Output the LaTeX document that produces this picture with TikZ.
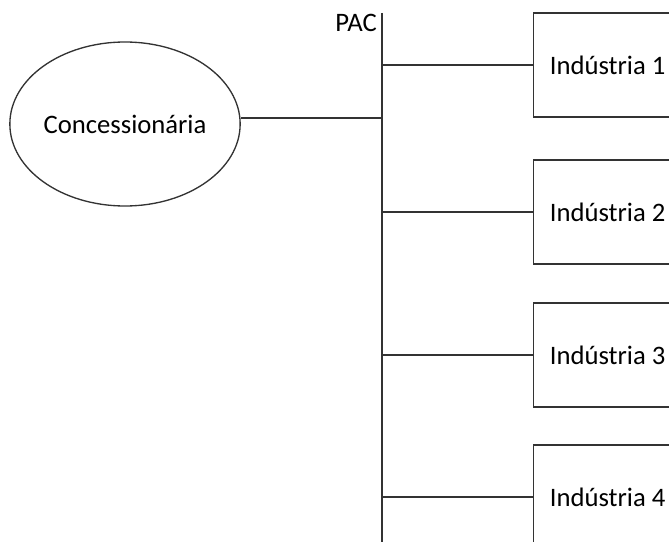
\documentclass[tikz,border=0pt]{standalone}
\usepackage{fontspec}
\setmainfont{Carlito}
\usetikzlibrary{shapes.geometric}
\begin{document}
\begin{tikzpicture}[x=0.75pt,y=-0.75pt,
  wire/.style={line width=1pt,draw=black!80},
  indbox/.style={draw=black!80,line width=1pt,rectangle,minimum width=111pt,minimum height=78pt,inner sep=0pt,anchor=west,font=\fontsize{20}{24}\selectfont},
  concnode/.style={draw=black!80,line width=1pt,ellipse,minimum width=169.5pt,minimum height=123pt,inner sep=0pt,font=\fontsize{20}{24}\selectfont},
  lbl/.style={font=\fontsize{20}{24}\selectfont,inner sep=0pt}]
\useasboundingbox (0,0) rectangle (669,542);
\clip (0,0) rectangle (669,542);
\coordinate (bustop) at (382,13);
\coordinate (busbot) at (382,545);
\draw[wire] (bustop) -- (busbot);
\node[lbl,anchor=base east] (pac) at (377,32) {PAC};
\node[concnode] (conc) at (125,124) {Concessionária};
\draw[wire] (conc.3.6) -- (conc.3.6 -| bustop);
\node[indbox] (i1) at (533,65) {Indústria 1};
\node[indbox] (i2) at (533,212) {Indústria 2};
\node[indbox] (i3) at (533,355) {Indústria 3};
\node[indbox] (i4) at (533,497) {Indústria 4};
\foreach \n in {i1,i2,i3,i4}{
  \draw[wire] (\n.west -| bustop) -- (\n.west);
}
\end{tikzpicture}
\end{document}
